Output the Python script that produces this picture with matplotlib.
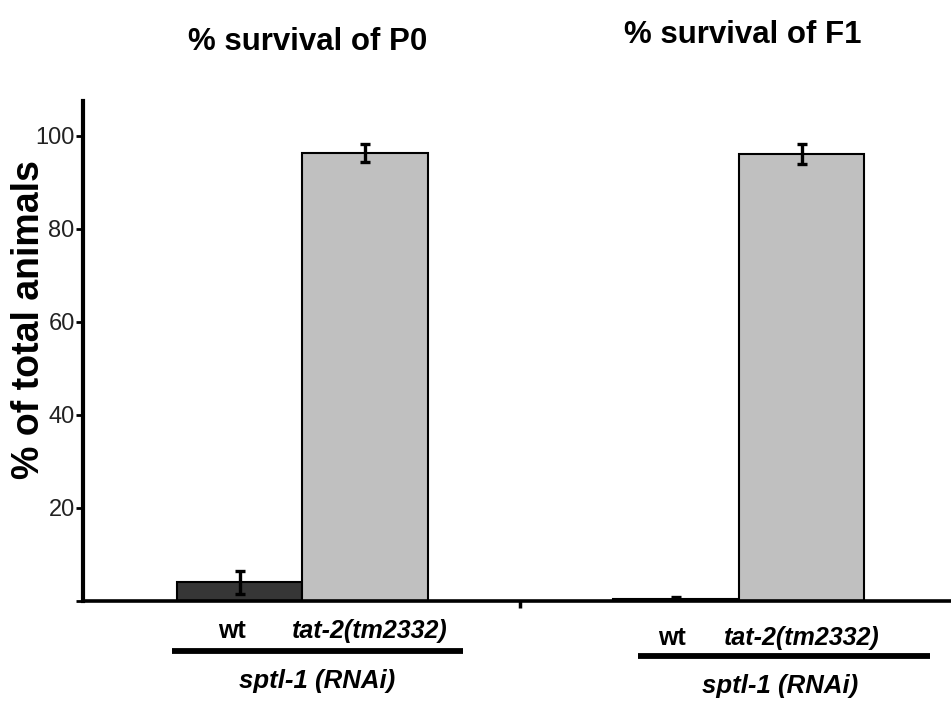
import matplotlib
matplotlib.use("Agg")
import matplotlib.pyplot as plt
from matplotlib.lines import Line2D

plt.rcParams['font.family'] = ['Liberation Sans', 'DejaVu Sans']

# ---- data ----
groups = ["P0", "F1"]
titles = ["% survival of P0", "% survival of F1"]
strains = ["wt", "tat-2(tm2332)"]
treatment = "sptl-1 (RNAi)"
survival_P0 = [4.0, 96.3]
error_P0 = [2.4, 1.9]
survival_F1 = [0.5, 96.1]
error_F1 = [0.3, 2.2]
ytick_values = [0, 20, 40, 60, 80, 100]
ytick_labels = ["", "20", "40", "60", "80", "100"]
ylabel = "% of total animals"

# ---- layout ----
W, H = 951, 701
fig = plt.figure(figsize=(W / 100, H / 100), dpi=100)
ax_left, ax_bottom, ax_top = 83, 601, 101
ax = fig.add_axes([ax_left / W, 1 - ax_bottom / H, 1 - ax_left / W, (ax_bottom - ax_top) / H])

group_start = [0.0, 3.48]
bar_colors = ["#363636", "#c0c0c0"]
values = [survival_P0, survival_F1]
errors = [error_P0, error_F1]

for g, start in enumerate(group_start):
    xs = [start + i for i in range(len(strains))]
    ax.bar(xs, values[g], width=1.0, color=bar_colors, edgecolor="black",
           linewidth=1.5, zorder=2)
    ax.errorbar(xs, values[g], yerr=errors[g], fmt="none", ecolor="black",
                elinewidth=2.4, capsize=3.8, capthick=2.4, zorder=3)

px_per_unit = 125.5
x0_px = 239.5
ax.set_xlim((ax_left - x0_px) / px_per_unit, (W - x0_px) / px_per_unit)
ax.set_ylim(0, 107.5)

ax.set_yticks(ytick_values)
ax.set_yticklabels(ytick_labels, fontsize=17, color="#222222")
ax.set_xticks([(520 - x0_px) / px_per_unit])
ax.set_xticklabels([""])
ax.tick_params(axis="y", direction="out", length=5, width=2, pad=1)
ax.tick_params(axis="x", direction="out", length=5, width=2.5)

for s in ["top", "right"]:
    ax.spines[s].set_visible(False)
ax.spines["left"].set_linewidth(3.0)
ax.spines["bottom"].set_linewidth(2.6)

fig.text(29 / W, 1 - 320 / H, ylabel, rotation=90, ha="center", va="center",
         fontsize=27, fontweight="bold")

# titles
title_pos = [(308, 50), (743, 43)]
for t, (px, py) in zip(titles, title_pos):
    fig.text(px / W, 1 - py / H, t, ha="center", va="baseline",
             fontsize=22.5, fontweight="bold")

# group labels
label_layout = [
    dict(wt=232, mut=370, base=638, line=(172, 463, 651), rnai=(317, 688)),
    dict(wt=672, mut=802, base=645, line=(638, 930, 656), rnai=(780, 693)),
]
for lay in label_layout:
    fig.text(lay["wt"] / W, 1 - lay["base"] / H, strains[0], ha="center",
             va="baseline", fontsize=18, fontweight="bold")
    fig.text(lay["mut"] / W, 1 - lay["base"] / H, strains[1], ha="center",
             va="baseline", fontsize=18, fontweight="bold", style="italic")
    x1, x2, ly = lay["line"]
    fig.add_artist(Line2D([x1 / W, x2 / W], [1 - ly / H, 1 - ly / H],
                          color="black", linewidth=4.2, solid_capstyle="butt"))
    rx, ry = lay["rnai"]
    fig.text(rx / W, 1 - ry / H, treatment, ha="center", va="baseline",
             fontsize=18.5, fontweight="bold", style="italic")

fig.savefig("out.png", dpi=100, facecolor="white")
